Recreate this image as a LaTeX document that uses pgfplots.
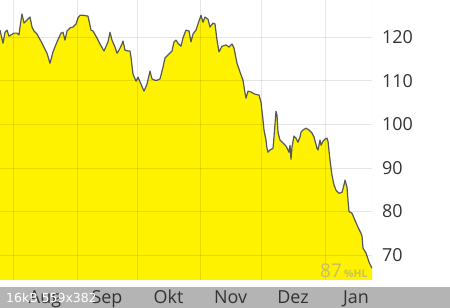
\documentclass[border=0pt]{standalone}
\usepackage{pgfplots}
\pgfplotsset{compat=1.18}
\usepackage{pgfplotstable}
\usepackage{fontspec}
\setmainfont{Open Sans}
\newfontfamily\dejavu{DejaVu Sans}
\definecolor{areayellow}{RGB}{255,242,0}
\definecolor{linegray}{RGB}{85,88,92}
\definecolor{bandgray}{RGB}{180,180,180}
\definecolor{labelgray}{RGB}{51,51,51}
\definecolor{wmark}{RGB}{200,190,100}

\pgfplotstableread{
x y
0 121.6
3 118.6
5 121.1
7 121.6
9 120.2
11 120.5
14 120.9
17 120.9
19 120.5
20 122.3
22 125.3
24 123.2
27 123.9
30 124.6
32 122.3
34 121.4
37 120.7
42 118.6
47 116.3
50 114.0
53 116.6
57 118.9
61 120.9
63 121.1
65 119.3
67 121.4
70 122.1
73 122.3
76 123.0
78 124.4
80 125.0
83 125.0
88 124.8
91 121.6
93 121.4
97 119.8
100 118.4
104 116.8
108 118.9
110 121.1
112 119.3
115 117.7
117 116.3
119 117.0
122 118.4
123 119.1
125 117.0
128 116.8
130 116.8
131 115.4
133 111.5
136 109.9
138 110.8
141 109.2
144 107.6
147 109.2
150 112.2
152 110.4
155 110.1
157 110.1
160 110.4
163 113.1
165 115.2
168 115.9
172 116.8
174 118.9
176 119.3
178 118.6
181 117.9
183 119.8
186 121.6
189 121.4
191 118.9
193 120.7
196 121.6
198 123.0
201 125.0
203 123.4
205 124.6
208 124.1
210 122.3
213 123.2
215 123.0
217 119.3
219 116.6
222 117.9
226 118.2
229 117.7
232 118.4
234 117.5
237 114.0
240 112.0
243 110.1
245 107.2
246 106.0
248 107.6
251 107.4
255 106.9
259 106.7
261 105.1
263 101.0
264 98.7
266 96.4
267 94.5
268 93.6
270 94.1
273 94.5
274 97.1
276 103.0
277 102.1
278 98.2
280 96.4
283 95.7
286 95.0
288 94.1
289 93.6
290 95.2
291 92.0
292 94.8
294 97.3
296 96.8
298 95.9
300 97.1
301 98.2
303 98.7
306 99.1
309 98.7
312 98.0
314 97.1
317 94.5
318 94.1
320 96.4
321 95.2
323 96.1
325 96.6
327 96.8
328 96.1
330 91.8
332 88.3
334 86.1
336 84.9
339 84.2
342 84.4
344 86.1
345 87.2
347 85.6
348 82.6
349 80.0
352 79.6
355 78.0
358 76.4
361 75.0
362 74.4
363 71.6
366 70.5
369 68.4
372 67.0
}\pricedata

\begin{document}
\begin{tikzpicture}
\fill[bandgray] (0,-28bp) rectangle (450bp,-7bp);
\begin{axis}[
 at={(0,0)}, anchor=south west,
 scale only axis, width=372bp, height=280bp,
 xmin=0, xmax=372, ymin=64.3, ymax=128.5,
 axis line style={draw=none},
 axis on top,
 xtick={45,107,168.5,230.5,293,356},
 xticklabels={Aug,Sep,Okt,Nov,Dez,Jan},
 minor xtick={13,77,137,200,261,325},
 xminorgrids=true, xmajorgrids=false,
 ytick={70,80,...,120},
 ymajorgrids=true,
 yticklabel pos=right,
 major tick length=0pt, minor tick length=0pt,
 grid style={draw=black, opacity=0.1, line width=0.8bp},
 minor grid style={draw=black, opacity=0.1, line width=0.8bp},
 tick label style={font=\fontsize{18}{20}\selectfont, text=labelgray},
 /pgf/number format/assume math mode=true,
 yticklabel style={anchor=west, inner sep=0pt, xshift=10bp},
 xticklabel style={anchor=base, inner sep=0pt, yshift=-23bp},
]
\addplot[fill=areayellow, draw=none] table {\pricedata} \closedcycle;
\addplot[draw=linegray, line width=1.2bp, line join=round] table {\pricedata};
\draw[black, opacity=0.1, line width=0.8bp] (rel axis cs:1,0) -- (rel axis cs:1,1);
\end{axis}
\node[anchor=base west, inner sep=0pt, text=wmark] at (320bp,2.5bp) {\fontsize{19}{20}\selectfont 87};
\node[anchor=base west, inner sep=0pt, text=wmark] at (344bp,2.5bp) {\fontsize{10.5}{12}\selectfont\bfseries\%HL};
\node[anchor=base west, inner sep=0pt, text=white] at (6bp,-22.7bp) {\dejavu\fontsize{12.5}{14}\selectfont 16kB 559x382};
\pgfresetboundingbox
\path (0,-28bp) rectangle (450bp,280bp);
\end{tikzpicture}
\end{document}
